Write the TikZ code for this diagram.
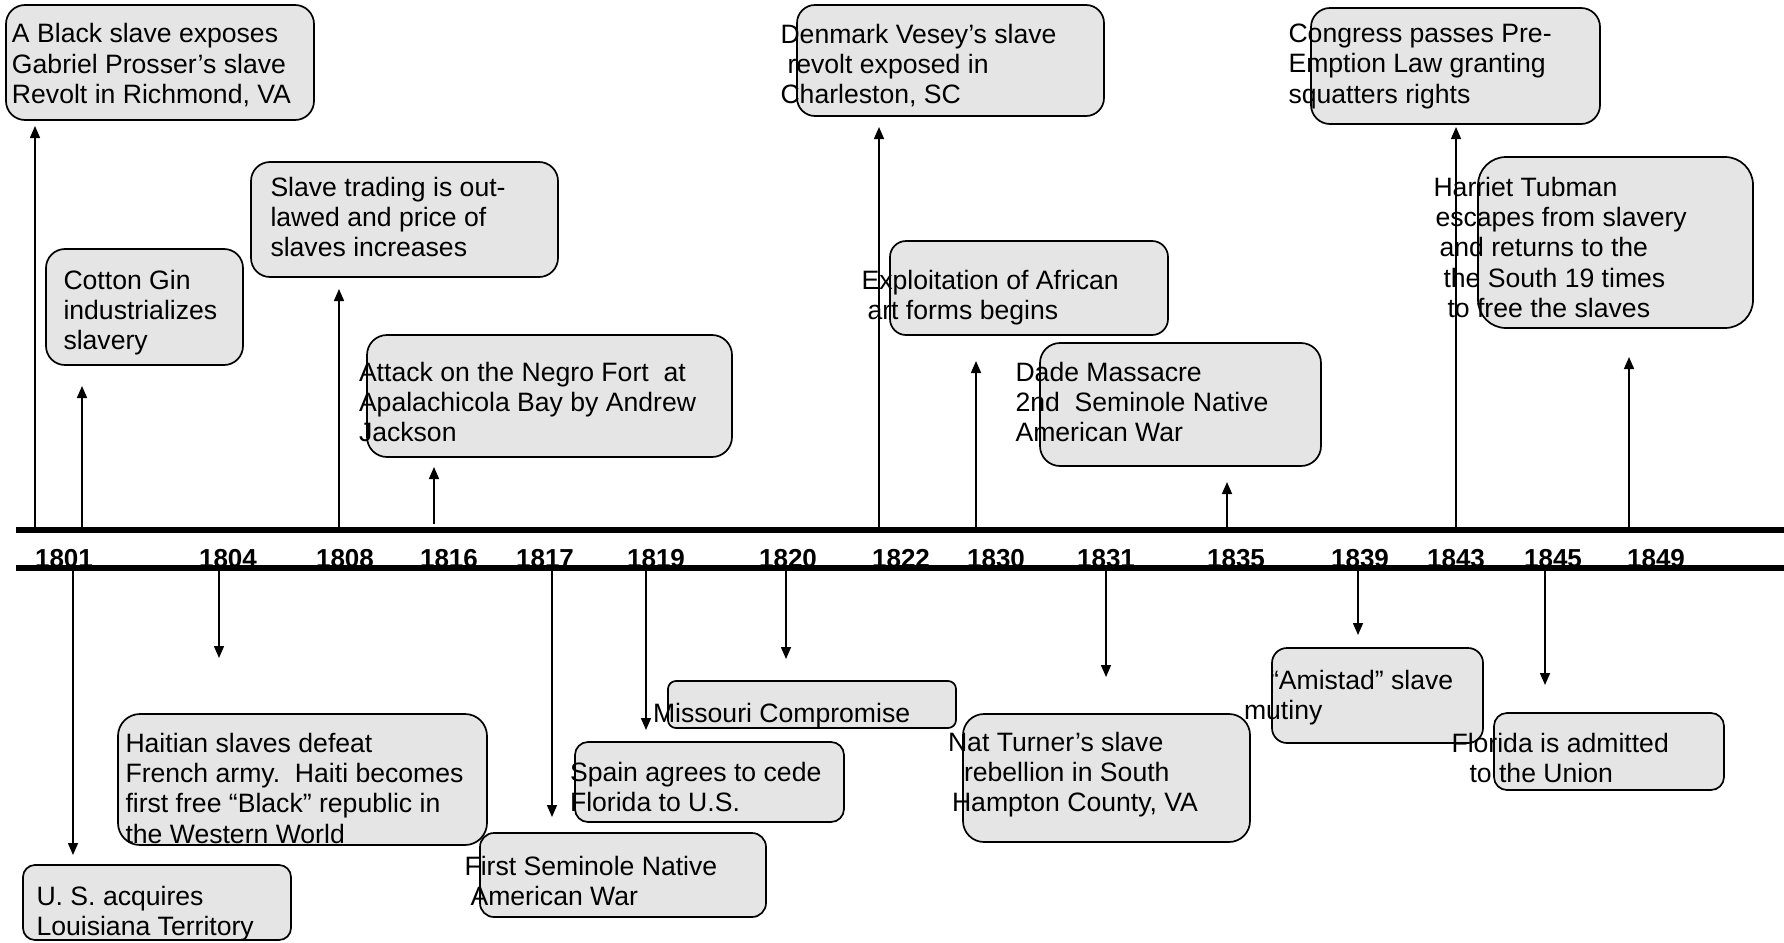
\documentclass[tikz,border=0pt]{standalone}
\usepackage{fontspec}
\setmainfont{Liberation Sans}
\usetikzlibrary{arrows.meta}
\definecolor{boxgray}{RGB}{229,229,229}
\tikzset{
  evbox/.style={draw=black, fill=boxgray, line width=1.7pt, inner sep=0pt, outer sep=0pt, anchor=north west, rounded corners=#1},
  evtext/.style={anchor=north west, inner sep=0pt, outer sep=0pt, align=left,
     font=\fontsize{26.6}{30.3}\selectfont, execute at begin node={\rule{0pt}{20pt}}},
  yeartext/.style={anchor=base, inner sep=0pt, font=\fontsize{26}{30}\selectfont\bfseries},
  axisline/.style={line width=5.3pt},
  conn/.style={line width=1.5pt, -{Triangle[length=12pt,width=10pt]}}
}
\begin{document}
\begin{tikzpicture}[x=1pt,y=-1pt]
\useasboundingbox (0,0) rectangle (1784,942);
\fill[white] (0,0) rectangle (1784,942);

% boxes
\node[evbox=19pt, minimum width=308pt, minimum height=115pt] (bA) at (6,5) {};
\node[evbox=19pt, minimum width=197pt, minimum height=116pt] (bCotton) at (46,249) {};
\node[evbox=19pt, minimum width=307pt, minimum height=115pt] (bSlave) at (251,162) {};
\node[evbox=20pt, minimum width=365pt, minimum height=122pt] (bAttack) at (367,335) {};
\node[evbox=18pt, minimum width=307pt, minimum height=111pt] (bDenmark) at (797,5) {};
\node[evbox=16pt, minimum width=278pt, minimum height=94pt] (bExploit) at (890,241) {};
\node[evbox=20pt, minimum width=281pt, minimum height=123pt] (bDade) at (1040,343) {};
\node[evbox=19pt, minimum width=289pt, minimum height=116pt] (bCongress) at (1311,8) {};
\node[evbox=28pt, minimum width=275pt, minimum height=171pt] (bHarriet) at (1478,157) {};
\node[evbox=12pt, minimum width=268pt, minimum height=75pt] (bUS) at (23,865) {};
\node[evbox=22pt, minimum width=369pt, minimum height=131pt] (bHaiti) at (118,714) {};
\node[evbox=14pt, minimum width=286pt, minimum height=84pt] (bFirst) at (480,833) {};
\node[evbox=13pt, minimum width=269pt, minimum height=80pt] (bSpain) at (575,742) {};
\node[evbox=8pt, minimum width=288pt, minimum height=47pt] (bMissouri) at (668,681) {};
\node[evbox=21pt, minimum width=287pt, minimum height=128pt] (bNat) at (963,714) {};
\node[evbox=15pt, minimum width=211pt, minimum height=95pt] (bAmistad) at (1272,648) {};
\node[evbox=13pt, minimum width=230pt, minimum height=77pt] (bFlorida) at (1494,713) {};

% timeline
\coordinate (topL) at (16,530);
\coordinate (topR) at (1784,530);
\coordinate (botL) at (16,568);
\coordinate (botR) at (1784,568);

% connector end points
\coordinate (u1s) at (35,530);   \coordinate (u1e) at (35,126);
\coordinate (u2s) at (82,530);   \coordinate (u2e) at (82,386);
\coordinate (u3s) at (339,530);  \coordinate (u3e) at (339,289);
\coordinate (u4s) at (434,524);  \coordinate (u4e) at (434,467);
\coordinate (u5s) at (879,530);  \coordinate (u5e) at (879,127);
\coordinate (u6s) at (976,533);  \coordinate (u6e) at (976,361);
\coordinate (u7s) at (1227,530); \coordinate (u7e) at (1227,482);
\coordinate (u8s) at (1456,530); \coordinate (u8e) at (1456,127);
\coordinate (u9s) at (1629,530); \coordinate (u9e) at (1629,357);
\coordinate (d1s) at (73,568);   \coordinate (d1e) at (73,855);
\coordinate (d2s) at (219,568);  \coordinate (d2e) at (219,658);
\coordinate (d3s) at (552,568);  \coordinate (d3e) at (552,817);
\coordinate (d4s) at (646,568);  \coordinate (d4e) at (646,730);
\coordinate (d5s) at (786,568);  \coordinate (d5e) at (786,659);
\coordinate (d6s) at (1106,568); \coordinate (d6e) at (1106,677);
\coordinate (d7s) at (1358,568); \coordinate (d7e) at (1358,635);
\coordinate (d8s) at (1545,568); \coordinate (d8e) at (1545,685);

\foreach \s/\e in {u1s/u1e,u2s/u2e,u3s/u3e,u4s/u4e,u5s/u5e,u6s/u6e,u7s/u7e,u8s/u8e,u9s/u9e,
                   d1s/d1e,d2s/d2e,d3s/d3e,d4s/d4e,d5s/d5e,d6s/d6e,d7s/d7e,d8s/d8e}
  \draw[conn] (\s) -- (\e);

\draw[axisline] (topL) -- (topR);
\draw[axisline] (botL) -- (botR);

% years
\node[yeartext] (y1801) at (64,567) {1801};
\node[yeartext] (y1804) at (228,567) {1804};
\node[yeartext] (y1808) at (345,567) {1808};
\node[yeartext] (y1816) at (449,567) {1816};
\node[yeartext] (y1817) at (545,567) {1817};
\node[yeartext] (y1819) at (656,567) {1819};
\node[yeartext] (y1820) at (788,567) {1820};
\node[yeartext] (y1822) at (901,567) {1822};
\node[yeartext] (y1830) at (996,567) {1830};
\node[yeartext] (y1831) at (1106,567) {1831};
\node[yeartext] (y1835) at (1236,567) {1835};
\node[yeartext] (y1839) at (1360,567) {1839};
\node[yeartext] (y1843) at (1456,567) {1843};
\node[yeartext] (y1845) at (1553,567) {1845};
\node[yeartext] (y1849) at (1656,567) {1849};

% texts (placed at first baseline - 20)
\node[evtext] (tA) at (12,23.5) {A Black slave exposes\\Gabriel Prosser’s slave\\Revolt in Richmond, VA};
\node[evtext] (tCotton) at (63.5,270) {Cotton Gin\\industrializes\\slavery};
\node[evtext] (tSlave) at (270.5,177) {Slave trading is out-\\lawed and price of\\slaves increases};
\node[evtext] (tAttack) at (359,362) {Attack on the Negro Fort\ \ at\\Apalachicola Bay by Andrew\\Jackson};
\node[evtext] (tDenmark) at (780.5,24) {Denmark Vesey’s slave\\\hspace*{7pt}revolt exposed in\\Charleston, SC};
\node[evtext] (tExploit) at (861.5,270) {Exploitation of African\\\hspace*{6pt}art forms begins};
\node[evtext] (tDade) at (1015.5,362) {Dade Massacre\\2nd\ \ Seminole Native\\American War};
\node[evtext] (tCongress) at (1288.5,24) {Congress passes Pre-\\Emption Law granting\\squatters rights};
\node[evtext] (tHarriet) at (1433.5,177) {Harriet Tubman\\\hspace*{2pt}escapes from slavery\\\hspace*{6pt}and returns to the\\\hspace*{10pt}the South 19 times\\\hspace*{14pt}to free the slaves};
\node[evtext] (tUS) at (36.5,886) {U. S. acquires\\Louisiana Territory};
\node[evtext] (tHaiti) at (125.5,733) {Haitian slaves defeat\\French army.\ \ Haiti becomes\\first free “Black” republic in\\the Western World};
\node[evtext] (tFirst) at (464.5,856) {First Seminole Native\\\hspace*{6pt}American War};
\node[evtext] (tSpain) at (570,762) {Spain agrees to cede\\Florida to U.S.};
\node[evtext] (tMissouri) at (653,702) {Missouri Compromise};
\node[evtext] (tNat) at (948,732) {Nat Turner’s slave\\\hspace*{16pt}rebellion in South\\\hspace*{4pt}Hampton County, VA};
\node[evtext] (tAmistad) at (1244,670) {\hspace*{26pt}“Amistad” slave\\mutiny};
\node[evtext] (tFlorida) at (1451.5,733) {Florida is admitted\\\hspace*{18pt}to the Union};
\end{tikzpicture}
\end{document}
